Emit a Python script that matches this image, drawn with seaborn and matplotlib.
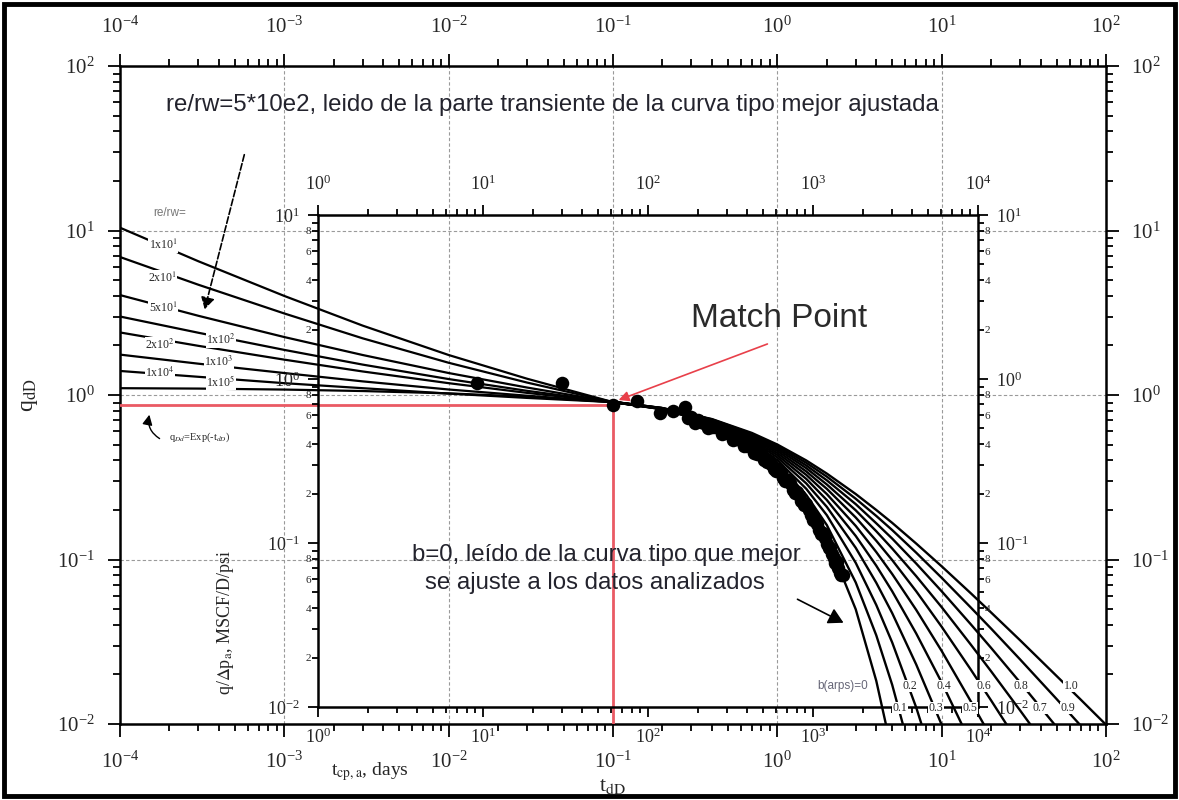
import numpy as np
import pandas as pd
import matplotlib
matplotlib.use("Agg")
import matplotlib.pyplot as plt
import seaborn as sns
from matplotlib.ticker import FixedLocator, FuncFormatter, LogLocator, NullFormatter
from matplotlib.patches import Rectangle, FancyArrowPatch

# ---------------- data ----------------
# transient stems (outer axes: t_dD, q_dD)
rerw_labels = ["1x10$^{1}$", "2x10$^{1}$", "5x10$^{1}$", "1x10$^{2}$",
               "2x10$^{2}$", "1x10$^{3}$", "1x10$^{4}$", "1x10$^{5}$"]
t_trans = [1e-4, 3e-4, 1e-3, 3e-3, 1e-2, 3e-2, 1e-1]
q_rerw_1e1 = [10.4, 6.50, 4.00, 2.64, 1.75, 1.256, 0.905]
q_rerw_2e1 = [6.9, 4.68, 3.13, 2.21, 1.57, 1.19, 0.905]
q_rerw_5e1 = [4.05, 3.03, 2.25, 1.75, 1.36, 1.11, 0.905]
q_rerw_1e2 = [3.0, 2.39, 1.88, 1.53, 1.25, 1.06, 0.905]
q_rerw_2e2 = [2.4, 1.99, 1.64, 1.39, 1.18, 1.03, 0.905]
q_rerw_1e3 = [1.76, 1.55, 1.36, 1.21, 1.08, 0.99, 0.905]
q_rerw_1e4 = [1.40, 1.29, 1.18, 1.10, 1.02, 0.96, 0.905]
q_rerw_1e5 = [1.10, 1.094, 1.079, 1.057, 1.023, 0.977, 0.905]

# depletion stems (Arps b values)
b_labels = ["0", "0.1", "0.2", "0.3", "0.4", "0.5", "0.6", "0.7", "0.8", "0.9", "1.0"]
t_dep = [0.1, 0.2, 0.4, 0.7, 1, 1.5, 2, 3, 4, 5, 7, 10, 15, 20, 30, 50, 70, 100]
q_b00 = [0.905, 0.819, 0.670, 0.497, 0.368, 0.223, 0.135, 0.0498, 0.0183, 0.0067]
q_b01 = [0.905, 0.820, 0.676, 0.508, 0.386, 0.247, 0.162, 0.0725, 0.0346, 0.0173, 0.0050]
q_b02 = [0.906, 0.822, 0.681, 0.519, 0.402, 0.269, 0.186, 0.0954, 0.0529, 0.0313, 0.0126, 0.0041]
q_b03 = [0.906, 0.823, 0.685, 0.530, 0.417, 0.290, 0.209, 0.1177, 0.0722, 0.0472, 0.0230, 0.0099, 0.0034]
q_b04 = [0.907, 0.825, 0.690, 0.539, 0.431, 0.309, 0.230, 0.139, 0.0917, 0.0641, 0.0355, 0.0179, 0.0077]
q_b05 = [0.907, 0.826, 0.694, 0.549, 0.444, 0.327, 0.250, 0.160, 0.111, 0.0816, 0.0494, 0.0278, 0.0138, 0.0083]
q_b06 = [0.907, 0.828, 0.699, 0.557, 0.457, 0.343, 0.269, 0.180, 0.130, 0.0992, 0.0641, 0.0390, 0.0215, 0.0139, 0.0074]
q_b07 = [0.908, 0.829, 0.703, 0.566, 0.469, 0.359, 0.286, 0.199, 0.1485, 0.1166, 0.0792, 0.0513, 0.0305, 0.0209, 0.0121, 0.0060]
q_b08 = [0.908, 0.831, 0.707, 0.574, 0.480, 0.373, 0.303, 0.217, 0.166, 0.134, 0.0945, 0.0641, 0.0405, 0.0290, 0.0179, 0.0096]
q_b09 = [0.909, 0.832, 0.711, 0.581, 0.490, 0.387, 0.319, 0.234, 0.184, 0.151, 0.110, 0.0774, 0.0512, 0.0380, 0.0247, 0.0142, 0.0098]
q_b10 = [0.909, 0.833, 0.714, 0.588, 0.500, 0.400, 0.333, 0.250, 0.200, 0.167, 0.125, 0.0909, 0.0625, 0.0476, 0.0323, 0.0196, 0.0141, 0.0099]

# production data (matched, in t_dD / q_dD)
data_t = [0.0149, 0.049, 0.100, 0.140, 0.194, 0.232, 0.275,
          0.30, 0.33, 0.36, 0.40, 0.44, 0.48, 0.52, 0.56, 0.60, 0.65, 0.70, 0.75, 0.80,
          0.86, 0.92, 0.98, 1.05, 1.12, 1.20, 1.28, 1.36, 1.45, 1.55, 1.65, 1.75, 1.85,
          1.95, 2.05, 2.15, 2.25, 2.35, 2.45,
          0.315, 0.38, 0.46, 0.54, 0.625, 0.725, 0.83, 0.95, 1.08, 1.24, 1.40, 1.60,
          1.80, 2.00, 2.20, 2.40,
          0.285, 0.345, 0.42, 0.50, 0.58, 0.675, 0.775, 0.89, 1.01, 1.16, 1.32, 1.50,
          1.70, 1.90, 2.10, 2.30, 2.50]
data_q = [1.185, 1.185, 0.868, 0.919, 0.775, 0.798, 0.844,
          0.74, 0.70, 0.68, 0.64, 0.63, 0.59, 0.58, 0.54, 0.53, 0.49, 0.48, 0.44, 0.43,
          0.39, 0.38, 0.345, 0.335, 0.30, 0.29, 0.255, 0.245, 0.215, 0.20, 0.175, 0.165, 0.143,
          0.135, 0.117, 0.108, 0.095, 0.089, 0.080,
          0.672, 0.629, 0.581, 0.536, 0.492, 0.445, 0.401, 0.356, 0.313, 0.266, 0.227, 0.186,
          0.152, 0.124, 0.102, 0.083,
          0.729, 0.687, 0.637, 0.589, 0.543, 0.494, 0.447, 0.399, 0.353, 0.304, 0.259, 0.216,
          0.177, 0.145, 0.118, 0.097, 0.080]

# match point
match_t = 0.1
match_q = 0.868

outer_x_ticks = [1e-4, 1e-3, 1e-2, 1e-1, 1e0, 1e1, 1e2]
outer_y_ticks = [1e-2, 1e-1, 1e0, 1e1, 1e2]
inner_x_ticks = [1e0, 1e1, 1e2, 1e3, 1e4]
inner_y_ticks = [1e-2, 1e-1, 1e0, 1e1]

# ---------------- styling ----------------
sns.set_style("white")
plt.rcParams["font.family"] = ["Liberation Serif", "DejaVu Serif"]
plt.rcParams["mathtext.fontset"] = "stix"

W, H = 1179, 800
fig = plt.figure(figsize=(W / 100, H / 100), dpi=100)
fig.patch.set_facecolor("white")


def fx(px):
    return px / W


def fy(py):
    return 1 - py / H


def pw(p1, p2):
    return (p2 - p1) / W


def ph(p1, p2):
    return (p2 - p1) / H


def pow_fmt(v, pos):
    e = int(round(np.log10(v)))
    return r"$\mathregular{10^{%d}}$" % e


def minor_fmt(v, pos):
    e = np.floor(np.log10(v) + 1e-9)
    m = int(round(v / 10 ** e))
    return str(m) if m in (2, 4, 6, 8) else ""


# outer axes
ax = fig.add_axes([fx(120), fy(724), pw(120, 1106), ph(66, 724)])
ax.set_xscale("log")
ax.set_yscale("log")
ax.set_xlim(1e-4, 1e2)
ax.set_ylim(1e-2, 1e2)
ax.set_facecolor("white")
ax.grid(True, which="major", color="#9a9a9a", linestyle=(0, (3, 2)), lw=0.8, zorder=0)
ax.set_axisbelow(True)
for s in ax.spines.values():
    s.set_linewidth(1.8)
    s.set_color("black")
ax.xaxis.set_major_locator(FixedLocator(outer_x_ticks))
ax.yaxis.set_major_locator(FixedLocator(outer_y_ticks))
ax.xaxis.set_minor_locator(LogLocator(base=10, subs=np.arange(2, 10), numticks=20))
ax.yaxis.set_minor_locator(LogLocator(base=10, subs=np.arange(2, 10), numticks=20))
ax.xaxis.set_major_formatter(FuncFormatter(pow_fmt))
ax.yaxis.set_major_formatter(FuncFormatter(pow_fmt))
ax.xaxis.set_minor_formatter(NullFormatter())
ax.yaxis.set_minor_formatter(NullFormatter())
ax.tick_params(which="both", direction="out", top=True, right=True, bottom=True, left=True,
               labeltop=True, labelright=True, labelbottom=True, labelleft=True,
               width=1.3, color="black", labelsize=15)
ax.tick_params(which="major", length=9, pad=9)
ax.tick_params(axis="x", which="major", pad=11)
ax.tick_params(which="minor", length=5)

# curves
trans_sets = [q_rerw_1e1, q_rerw_2e1, q_rerw_5e1, q_rerw_1e2,
              q_rerw_2e2, q_rerw_1e3, q_rerw_1e4, q_rerw_1e5]
for q in trans_sets:
    sns.lineplot(x=t_trans, y=q, ax=ax, color="black", lw=1.6,
                 estimator=None, sort=False, zorder=3)
dep_sets = [q_b00, q_b01, q_b02, q_b03, q_b04, q_b05, q_b06, q_b07, q_b08, q_b09, q_b10]
for q in dep_sets:
    sns.lineplot(x=t_dep[:len(q)], y=q, ax=ax, color="black", lw=1.7,
                 estimator=None, sort=False, zorder=3)

# red match lines
ax.plot([1e-4, match_t], [match_q, match_q], color="#ea5a64", lw=2.0, zorder=4)
ax.plot([match_t, match_t], [match_q, 1e-2], color="#ea5a64", lw=2.0, zorder=4)

# data points
sns.scatterplot(x=data_t, y=data_q, ax=ax, color="black", s=95, linewidth=0, zorder=6)

# inner axes
axi = fig.add_axes([fx(318), fy(707), pw(318, 978), ph(215, 707)], facecolor="none")
axi.set_xscale("log")
axi.set_yscale("log")
axi.set_xlim(1e0, 1e4)
axi.set_ylim(1e-2, 1e1)
axi.grid(False)
for s in axi.spines.values():
    s.set_linewidth(1.8)
    s.set_color("black")
axi.xaxis.set_major_locator(FixedLocator(inner_x_ticks))
axi.yaxis.set_major_locator(FixedLocator(inner_y_ticks))
axi.xaxis.set_minor_locator(LogLocator(base=10, subs=np.arange(2, 10), numticks=20))
axi.yaxis.set_minor_locator(LogLocator(base=10, subs=np.arange(2, 10), numticks=20))
axi.xaxis.set_major_formatter(FuncFormatter(pow_fmt))
axi.yaxis.set_major_formatter(FuncFormatter(pow_fmt))
axi.xaxis.set_minor_formatter(NullFormatter())
axi.yaxis.set_minor_formatter(FuncFormatter(minor_fmt))
axi.tick_params(which="both", direction="out", top=True, right=True, bottom=True, left=True,
                labeltop=True, labelright=True, labelbottom=True, labelleft=True,
                width=1.3, color="black")
axi.tick_params(which="major", length=7, labelsize=13, pad=6)
axi.tick_params(axis="x", which="major", pad=8)
axi.tick_params(which="minor", length=4, labelsize=8, pad=1)

# ---------------- text ----------------
sans = ["Liberation Sans", "DejaVu Sans"]
txtc = "#23232d"
fig.text(fx(552), fy(105), "re/rw=5*10e2, leido de la parte transiente de la curva tipo mejor ajustada",
         family=sans, fontsize=17.3, color=txtc, ha="center", va="center")
fig.text(fx(779), fy(319), "Match Point", family=sans, fontsize=24, color="#2a2a2a",
         ha="center", va="center")
fig.text(fx(412), fy(555), "b=0, leído de la curva tipo que mejor",
         family=sans, fontsize=17.3, color=txtc, ha="left", va="center")
fig.text(fx(425), fy(583), "se ajuste a los datos analizados",
         family=sans, fontsize=17.3, color=txtc, ha="left", va="center")

fig.text(fx(170), fy(213), "re/rw=", family=sans, fontsize=8.5, color="#777777",
         ha="center", va="center")
lab_pos = [(163, 245), (162, 278), (163, 308), (221, 340),
           (160, 345), (219, 362), (160, 373), (221, 382)]
for lab, (px, py) in zip(rerw_labels, lab_pos):
    fig.text(fx(px), fy(py), lab, fontsize=8.5, ha="center", va="center", zorder=10,
             bbox=dict(facecolor="white", edgecolor="none", pad=0.3))

fig.text(fx(843), fy(686), "b(arps)=0", family=sans, fontsize=8.5, color="#666677",
         ha="center", va="center", zorder=10,
         bbox=dict(facecolor="white", edgecolor="none", pad=0.3))
brow1 = [("0.2", 910), ("0.4", 944), ("0.6", 984), ("0.8", 1021), ("1.0", 1071)]
brow2 = [("0.1", 900), ("0.3", 936), ("0.5", 970), ("0.7", 1040), ("0.9", 1068)]
for lab, px in brow1:
    fig.text(fx(px), fy(686), lab, fontsize=8.5, ha="center", va="center", zorder=10,
             bbox=dict(facecolor="white", edgecolor="none", pad=0.3))
for lab, px in brow2:
    fig.text(fx(px), fy(708), lab, fontsize=8.5, ha="center", va="center", zorder=10,
             bbox=dict(facecolor="white", edgecolor="none", pad=0.3))

fig.text(fx(200), fy(437), r"q$_{Dd}$=Exp(-t$_{dD}$)", fontsize=7.5, ha="center", va="center")

# axis titles
fig.text(fx(30), fy(395), r"q$_{\mathrm{dD}}$", fontsize=17, rotation=90, ha="center", va="center")
fig.text(fx(612), fy(786), r"t$_{\mathrm{dD}}$", fontsize=16, ha="center", va="center")
fig.text(fx(370), fy(772), r"t$_{\mathrm{cp,a}}$, days", fontsize=14, ha="center", va="center")
fig.text(fx(225), fy(622), r"q/$\Delta$p$_{\mathrm{a}}$, MSCF/D/psi", fontsize=13,
         rotation=90, ha="center", va="center")


# arrows (figure pixel coordinates)
def P(px, py):
    return (px, H - py)


fig.add_artist(FancyArrowPatch(
    P(245, 152), P(204, 312), transform=None, arrowstyle="-|>,head_length=7,head_width=4",
    linestyle=(0, (4, 1.5)), lw=1.2, color="black", zorder=12))
fig.add_artist(FancyArrowPatch(
    P(770, 343), P(616, 401), transform=None, arrowstyle="-|>,head_length=6,head_width=3",
    lw=1.2, color="#e8404a", zorder=12))
fig.add_artist(FancyArrowPatch(
    P(795, 598), P(846, 624), transform=None, arrowstyle="-|>,head_length=9,head_width=5",
    lw=1.2, color="black", zorder=12))
fig.add_artist(FancyArrowPatch(
    P(162, 440), P(150, 412), transform=None, arrowstyle="-|>,head_length=6,head_width=3",
    connectionstyle="arc3,rad=-0.4", lw=1.0, color="black", zorder=12))

# outer border
fig.add_artist(Rectangle((fx(4), fy(796)), pw(4, 1175), ph(4, 796), transform=fig.transFigure,
                         fill=False, lw=3.5, ec="black", zorder=20))

fig.savefig("out.png", dpi=100, facecolor="white")
